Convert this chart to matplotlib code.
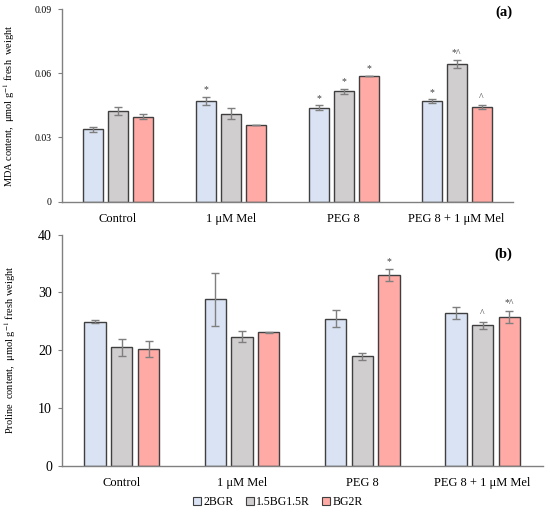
import matplotlib
matplotlib.use("Agg")
import matplotlib.pyplot as plt
import numpy as np
from matplotlib.patches import Patch

plt.rcParams['font.family'] = ['Liberation Serif', 'DejaVu Serif']
plt.rcParams['mathtext.fontset'] = 'stix'

categories = ["Control", "1 \u03bcM Mel", "PEG 8", "PEG 8 + 1 \u03bcM Mel"]
series = ["2BGR", "1.5BG1.5R", "BG2R"]
colors = ["#dae3f3", "#d0cece", "#ffaaa5"]

mda = [
    [0.0338, 0.0470, 0.0439, 0.0470],
    [0.0424, 0.0411, 0.0515, 0.0643],
    [0.0397, 0.0358, 0.0587, 0.0442],
]
mda_err = [
    [0.0012, 0.0019, 0.0011, 0.0008],
    [0.0019, 0.0025, 0.0011, 0.0017],
    [0.0011, 0.0002, 0.0001, 0.0011],
]
mda_marks = [
    ["", "*", "*", "*"],
    ["", "", "*", "*^"],
    ["", "", "*", "^"],
]

proline = [
    [24.95, 28.8, 25.45, 26.4],
    [20.5, 22.35, 18.95, 24.3],
    [20.25, 23.1, 32.95, 25.75],
]
proline_err = [
    [0.2, 4.65, 1.45, 1.05],
    [1.5, 0.95, 0.65, 0.6],
    [1.4, 0.08, 1.05, 1.0],
]
proline_marks = [
    ["", "", "", ""],
    ["", "", "", "^"],
    ["", "", "*", "*^"],
]

fig = plt.figure(figsize=(5.5, 5.13), dpi=100)
ax1 = fig.add_axes([0.1122, 0.6068, 0.8205, 0.3756])
ax2 = fig.add_axes([0.1122, 0.0922, 0.8745, 0.4503])

x = np.arange(len(categories))
width = 0.177
step = 0.222


def draw(ax, vals, errs, marks, ymax, yticks, ylabel, ytick_fs, xtick_fs, mark_off):
    for i, (v, e, m) in enumerate(zip(vals, errs, marks)):
        pos = x + (i - 1) * step
        ax.bar(pos, v, width=width, color=colors[i], edgecolor="#3f3f3f",
               linewidth=1.0, zorder=2)
        ax.errorbar(pos, v, yerr=e, fmt="none", ecolor="#7f7f7f",
                    elinewidth=1.0, capsize=3, capthick=1.0, zorder=3)
        for p, vv, ee, mm in zip(pos, v, e, m):
            if mm:
                ax.text(p, vv + ee + mark_off, mm, ha="center", va="bottom",
                        fontsize=7, color="#404040", zorder=4)
    ax.set_xlim(-0.5, len(categories) - 0.5)
    ax.set_ylim(0, ymax)
    ax.set_yticks(yticks)
    ax.set_xticks(x)
    ax.set_xticklabels(categories, fontsize=xtick_fs)
    ax.tick_params(axis="x", length=0, pad=8)
    ax.tick_params(axis="y", labelsize=ytick_fs, length=3, color="#808080", pad=4)
    for s in ["top", "right"]:
        ax.spines[s].set_visible(False)
    for s in ["left", "bottom"]:
        ax.spines[s].set_color("#808080")
        ax.spines[s].set_linewidth(1.0)
    ax.set_ylabel(ylabel, fontsize=7.5)


draw(ax1, mda, mda_err, mda_marks, 0.09, [0, 0.03, 0.06, 0.09],
     r"MDA content,  μmol g$^{-1}$ fresh  weight", 7, 9, 0.0012)
ax1.set_yticklabels(["0", "0.03", "0.06", "0.09"])
ax1.yaxis.set_label_coords(-0.099, 0.5)
ax1.text(0.998, 0.984, "(a)", transform=ax1.transAxes, ha="right", va="center",
         fontsize=10.5, fontweight="bold")

draw(ax2, proline, proline_err, proline_marks, 40, [0, 10, 20, 30, 40],
     r"Proline  content,  μmol g$^{-1}$ fresh weight", 10, 9, 0.6)
ax2.yaxis.set_label_coords(-0.091, 0.5)
ax2.text(0.936, 0.916, "(b)", transform=ax2.transAxes, ha="right", va="center",
         fontsize=10.5, fontweight="bold")

handles = [Patch(facecolor=c, edgecolor="#3f3f3f", linewidth=0.8) for c in colors]
fig.legend(handles, series, loc="center", bbox_to_anchor=(0.505, 0.021), ncol=3,
           frameon=False, fontsize=8.5, handlelength=0.7, handleheight=0.7,
           handletextpad=0.2, columnspacing=1.0)

fig.savefig("out.png", dpi=100)
